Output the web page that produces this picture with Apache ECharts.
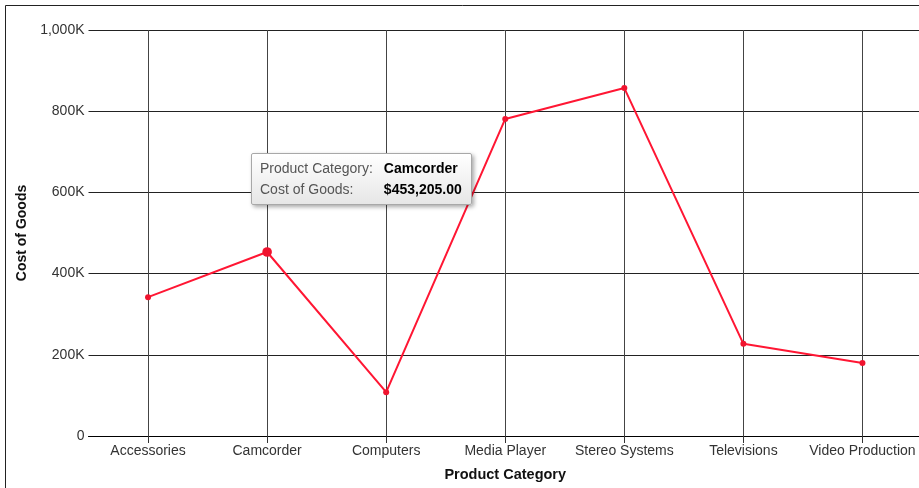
<!DOCTYPE html>
<html>
<head>
<meta charset="utf-8">
<script src="https://cdn.jsdelivr.net/npm/echarts@6/dist/echarts.min.js"></script>
<style>
    html, body { margin: 0; padding: 0; background: #fff; }
    #main { width: 919px; height: 488px; }
</style>
</head>
<body>
<div id="main"></div>
<script>
var categories = ['Accessories', 'Camcorder', 'Computers', 'Media Player', 'Stereo Systems', 'Televisions', 'Video Production'];
var costValues = [342000, 453205, 108000, 781000, 857000, 227000, 180000];
var yTicks = { min: 0, max: 1000000, interval: 200000 };

(function () {
    var myChart = echarts.init(document.getElementById('main'));

    function fmtK(v) {
        if (v === 0) return '0';
        return (v / 1000).toLocaleString('en-US') + 'K';
    }

    function fmtMoney(v) {
        return '$' + v.toLocaleString('en-US', { minimumFractionDigits: 2, maximumFractionDigits: 2 });
    }

    var option = {
        backgroundColor: '#fff',
        textStyle: { fontFamily: 'Liberation Sans, Arial, sans-serif' },
        animation: false,
        graphic: [{
            type: 'rect',
            silent: true,
            shape: { x: 5.5, y: 5.5, width: 1000, height: 1000 },
            style: { fill: 'none', stroke: '#222', lineWidth: 1 }
        }],
        grid: { left: 88.5, top: 30, right: -3, bottom: 52, outerBoundsMode: 'none', containLabel: false },
        tooltip: {
            trigger: 'item',
            alwaysShowContent: true,
            position: [251, 153],
            padding: [4, 8],
            backgroundColor: 'transparent',
            borderWidth: 0,
            extraCssText: 'background:linear-gradient(#ffffff,#e6e6e6);border:1px solid #a8a8a8;border-radius:2px;box-shadow:2px 2px 4px rgba(0,0,0,0.35);',
            formatter: function (p) {
                return '<table style="border-collapse:collapse;font:14px Liberation Sans,Arial,sans-serif;line-height:19px">' +
                    '<tr><td style="color:#555;padding:0 10px 0 0">Product Category:</td><td style="color:#000;font-weight:bold">' + p.name + '</td></tr>' +
                    '<tr><td style="color:#555;padding:0 10px 0 0">Cost of Goods:</td><td style="color:#000;font-weight:bold">' + fmtMoney(p.value) + '</td></tr>' +
                    '</table>';
            }
        },
        xAxis: {
            type: 'category',
            data: categories,
            boundaryGap: true,
            name: 'Product Category',
            nameLocation: 'middle',
            nameGap: 31,
            nameTextStyle: { fontSize: 14.5, fontWeight: 'bold', color: '#111' },
            axisLine: { show: true, lineStyle: { color: '#000', width: 1 } },
            axisTick: { show: true, alignWithLabel: true, length: 7, lineStyle: { color: '#333' } },
            axisLabel: { fontSize: 14, color: '#333', margin: 8, interval: 0 },
            splitLine: { show: true, alignWithLabel: true, lineStyle: { color: '#444', width: 1 } }
        },
        yAxis: {
            type: 'value',
            min: yTicks.min,
            max: yTicks.max,
            interval: yTicks.interval,
            name: 'Cost of Goods',
            nameLocation: 'middle',
            nameGap: 58,
            nameRotate: 90,
            nameTextStyle: { fontSize: 14, fontWeight: 'bold', color: '#111' },
            axisLine: { show: false },
            axisTick: { show: false },
            axisLabel: { fontSize: 14, color: '#333', margin: 4, formatter: fmtK },
            splitLine: { show: true, lineStyle: { color: '#222', width: 1 } }
        },
        series: [{
            name: 'Cost of Goods',
            type: 'line',
            data: costValues,
            symbol: 'circle',
            symbolSize: 6,
            lineStyle: { color: '#f0142f', width: 2 },
            itemStyle: { color: '#f0142f' },
            emphasis: { scale: 1.6, itemStyle: { color: '#f0142f' } }
        }]
    };
    myChart.setOption(option);

    myChart.dispatchAction({ type: 'highlight', seriesIndex: 0, dataIndex: 1 });
    myChart.dispatchAction({ type: 'showTip', seriesIndex: 0, dataIndex: 1 });
})();
</script>
</body>
</html>
